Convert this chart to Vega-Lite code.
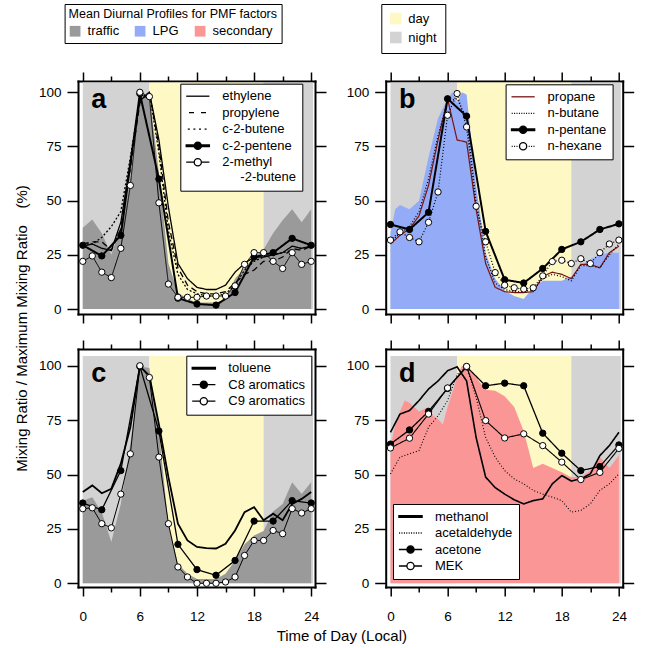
{
"$schema": "https://vega.github.io/schema/vega-lite/v6.json",
"padding": {"left": 13, "top": 3, "right": 5, "bottom": 3},
"config": {
  "font": "Liberation Sans",
  "view": {"stroke": null},
  "axis": {"domainColor": "black", "domainWidth": 2, "domainCap": "square", "tickColor": "black", "tickWidth": 1.5, "labelColor": "black", "labelFont": "Liberation Sans", "grid": false, "titleColor": "black", "titleFont": "Liberation Sans", "titleFontWeight": "normal"},
  "legend": {"labelFont": "Liberation Sans", "labelColor": "black", "titleFont": "Liberation Sans", "titleColor": "black", "titleFontWeight": "normal"},
  "text": {"font": "Liberation Sans"}
},
"datasets": {
  "bands": [{"start": 0, "end": 7, "period": "night"}, {"start": 7, "end": 19, "period": "day"}, {"start": 19, "end": 24.2, "period": "night"}],
  "factors": [{"factor": "traffic"}, {"factor": "LPG"}, {"factor": "secondary"}],
  "pa": [
    {"hour": 0, "traffic": 37.5, "ethylene": 29, "propylene": 30, "c-2-butene": 30, "c-2-pentene": 29.4, "2-methyl-2-butene": 22},
    {"hour": 1, "traffic": 41.3, "ethylene": 30, "propylene": 31, "c-2-butene": 30, "2-methyl-2-butene": 24.5},
    {"hour": 2, "traffic": 35, "ethylene": 28, "propylene": 31, "c-2-butene": 33, "c-2-pentene": 24.5, "2-methyl-2-butene": 17},
    {"hour": 3, "traffic": 25, "ethylene": 27, "propylene": 27, "c-2-butene": 38, "2-methyl-2-butene": 14.5},
    {"hour": 4, "traffic": 38, "ethylene": 40, "propylene": 37, "c-2-butene": 45, "c-2-pentene": 34, "2-methyl-2-butene": 28},
    {"hour": 5, "traffic": 60, "ethylene": 68, "propylene": 65, "c-2-butene": 70, "2-methyl-2-butene": 57},
    {"hour": 6, "traffic": 98.6, "ethylene": 96, "propylene": 95, "c-2-butene": 97, "c-2-pentene": 99.4, "2-methyl-2-butene": 100},
    {"hour": 7, "traffic": 99, "ethylene": 100, "propylene": 100, "c-2-butene": 100, "2-methyl-2-butene": 98},
    {"hour": 8, "traffic": 63, "ethylene": 78, "propylene": 75, "c-2-butene": 72, "c-2-pentene": 60, "2-methyl-2-butene": 49},
    {"hour": 9, "traffic": 21, "ethylene": 47, "propylene": 40, "c-2-butene": 36, "2-methyl-2-butene": 11.5},
    {"hour": 10, "traffic": 7.6, "ethylene": 21, "propylene": 19, "c-2-butene": 16, "c-2-pentene": 5, "2-methyl-2-butene": 5.4},
    {"hour": 11, "traffic": 4.6, "ethylene": 14, "propylene": 11, "c-2-butene": 9, "2-methyl-2-butene": 5.4},
    {"hour": 12, "traffic": 3, "ethylene": 10, "propylene": 8, "c-2-butene": 7, "c-2-pentene": 2.3, "2-methyl-2-butene": 5.4},
    {"hour": 13, "traffic": 3, "ethylene": 9, "propylene": 7, "c-2-butene": 6, "2-methyl-2-butene": 6},
    {"hour": 14, "traffic": 3, "ethylene": 9, "propylene": 7, "c-2-butene": 6, "c-2-pentene": 1.8, "2-methyl-2-butene": 6},
    {"hour": 15, "traffic": 4.6, "ethylene": 11, "propylene": 8, "c-2-butene": 7, "2-methyl-2-butene": 6},
    {"hour": 16, "traffic": 14, "ethylene": 17, "propylene": 12, "c-2-butene": 11, "c-2-pentene": 7.6, "2-methyl-2-butene": 10.7},
    {"hour": 17, "traffic": 19, "ethylene": 21, "propylene": 16, "c-2-butene": 18, "2-methyl-2-butene": 20.6},
    {"hour": 18, "traffic": 24, "ethylene": 24, "propylene": 18, "c-2-butene": 22, "c-2-pentene": 24, "2-methyl-2-butene": 26},
    {"hour": 19, "traffic": 27.5, "ethylene": 24, "propylene": 22, "c-2-butene": 24, "2-methyl-2-butene": 26},
    {"hour": 20, "traffic": 35, "ethylene": 25, "propylene": 22, "c-2-butene": 25, "c-2-pentene": 26, "2-methyl-2-butene": 22},
    {"hour": 21, "traffic": 41, "ethylene": 26, "propylene": 24, "c-2-butene": 26, "2-methyl-2-butene": 18.7},
    {"hour": 22, "traffic": 46, "ethylene": 29, "propylene": 28, "c-2-butene": 27, "c-2-pentene": 32.6, "2-methyl-2-butene": 26},
    {"hour": 23, "traffic": 40, "ethylene": 28, "propylene": 27, "c-2-butene": 28, "2-methyl-2-butene": 20.6},
    {"hour": 24, "traffic": 46, "ethylene": 29, "propylene": 29, "c-2-butene": 29, "c-2-pentene": 29.4, "2-methyl-2-butene": 22}
  ],
  "pb": [
    {"hour": 0, "LPG": 35, "propane": 30, "n-butane": 31, "n-pentane": 39, "n-hexane": 31.8},
    {"hour": 0.5, "LPG": 46},
    {"hour": 1, "LPG": 48, "propane": 34, "n-butane": 35, "n-hexane": 35.6},
    {"hour": 2, "LPG": 46, "propane": 37, "n-butane": 38, "n-pentane": 36.7, "n-hexane": 33},
    {"hour": 3, "LPG": 50, "propane": 43, "n-butane": 45, "n-hexane": 31},
    {"hour": 4, "LPG": 70, "propane": 57, "n-butane": 60, "n-pentane": 44.6, "n-hexane": 40},
    {"hour": 5, "LPG": 88, "propane": 78, "n-butane": 80, "n-hexane": 54},
    {"hour": 6, "LPG": 97, "propane": 97, "n-butane": 96, "n-pentane": 97, "n-hexane": 89.4},
    {"hour": 6.5, "LPG": 100},
    {"hour": 7, "LPG": 95, "propane": 78, "n-butane": 97, "n-hexane": 99.4},
    {"hour": 7.5, "LPG": 100},
    {"hour": 8, "LPG": 99, "propane": 77, "n-butane": 88, "n-pentane": 89, "n-hexane": 84},
    {"hour": 9, "LPG": 57, "propane": 46, "n-butane": 50, "n-hexane": 47.4},
    {"hour": 10, "LPG": 26, "propane": 21, "n-butane": 24, "n-pentane": 35.8, "n-hexane": 31},
    {"hour": 11, "LPG": 14, "propane": 10, "n-butane": 12, "n-hexane": 16.8},
    {"hour": 12, "LPG": 8.4, "propane": 8, "n-butane": 9, "n-pentane": 13.5, "n-hexane": 11},
    {"hour": 13, "LPG": 6, "propane": 7.6, "n-butane": 8, "n-hexane": 9.8},
    {"hour": 14, "LPG": 4.6, "propane": 7.6, "n-butane": 8, "n-pentane": 12, "n-hexane": 9.2},
    {"hour": 15, "LPG": 10, "propane": 8, "n-butane": 9, "n-hexane": 9.8},
    {"hour": 16, "LPG": 13, "propane": 15, "n-butane": 14, "n-pentane": 18.7, "n-hexane": 15.3},
    {"hour": 17, "LPG": 13, "propane": 17, "n-butane": 16, "n-hexane": 21.9},
    {"hour": 18, "LPG": 13, "propane": 16, "n-butane": 15, "n-pentane": 27.5, "n-hexane": 22.5},
    {"hour": 19, "LPG": 15, "propane": 14, "n-butane": 13, "n-hexane": 21},
    {"hour": 20, "LPG": 20, "propane": 20.6, "n-butane": 20, "n-pentane": 31, "n-hexane": 23.2},
    {"hour": 21, "LPG": 23, "propane": 20.6, "n-butane": 20, "n-hexane": 21},
    {"hour": 22, "LPG": 25, "propane": 19, "n-butane": 19, "n-pentane": 36.7, "n-hexane": 26},
    {"hour": 23, "LPG": 26, "propane": 26, "n-butane": 25, "n-hexane": 30},
    {"hour": 24, "LPG": 26, "propane": 29, "n-butane": 30, "n-pentane": 39.3, "n-hexane": 31.8}
  ],
  "pc": [
    {"hour": 0, "traffic": 38, "toluene": 42, "C8 aromatics": 36.9, "C9 aromatics": 34.3},
    {"hour": 1, "traffic": 39.6, "toluene": 45, "C9 aromatics": 34.7},
    {"hour": 2, "traffic": 32.7, "toluene": 41.4, "C8 aromatics": 33.8, "C9 aromatics": 27.4},
    {"hour": 3, "traffic": 19, "toluene": 43.4, "C9 aromatics": 25.5},
    {"hour": 4, "traffic": 36.5, "toluene": 55, "C8 aromatics": 51.8, "C9 aromatics": 41},
    {"hour": 5, "traffic": 64, "toluene": 71.7, "C9 aromatics": 59.5},
    {"hour": 6, "traffic": 99.7, "toluene": 99.7, "C8 aromatics": 99.7, "C9 aromatics": 100},
    {"hour": 7, "traffic": 99, "toluene": 95.4, "C9 aromatics": 94.6},
    {"hour": 8, "traffic": 70, "toluene": 73, "C8 aromatics": 70, "C9 aromatics": 58},
    {"hour": 9, "traffic": 27, "toluene": 48.8, "C9 aromatics": 27.4},
    {"hour": 10, "traffic": 9, "toluene": 27.4, "C8 aromatics": 17.9, "C9 aromatics": 7.5},
    {"hour": 11, "traffic": 4.4, "toluene": 19.7, "C9 aromatics": 2.9},
    {"hour": 12, "traffic": 2, "toluene": 16.7, "C8 aromatics": 6.3, "C9 aromatics": 0},
    {"hour": 13, "traffic": 2, "toluene": 16.2, "C9 aromatics": 0},
    {"hour": 14, "traffic": 2, "toluene": 16, "C8 aromatics": 3.7, "C9 aromatics": 0},
    {"hour": 15, "traffic": 4.4, "toluene": 18.2, "C9 aromatics": 0.6},
    {"hour": 16, "traffic": 10.5, "toluene": 24.3, "C8 aromatics": 10.5, "C9 aromatics": 2.9},
    {"hour": 17, "traffic": 18, "toluene": 32.7, "C9 aromatics": 12.8},
    {"hour": 18, "traffic": 22, "toluene": 35, "C8 aromatics": 28.6, "C9 aromatics": 19.7},
    {"hour": 19, "traffic": 24, "toluene": 29, "C9 aromatics": 19.7},
    {"hour": 20, "traffic": 33, "toluene": 32, "C8 aromatics": 28.6, "C9 aromatics": 24.3},
    {"hour": 21, "traffic": 36.5, "toluene": 29, "C9 aromatics": 22.8},
    {"hour": 22, "traffic": 46.5, "toluene": 36.5, "C8 aromatics": 38, "C9 aromatics": 34.3},
    {"hour": 23, "traffic": 41, "toluene": 38.8, "C9 aromatics": 32.3},
    {"hour": 24, "traffic": 46.5, "toluene": 42, "C8 aromatics": 36.9, "C9 aromatics": 34.3}
  ],
  "pd": [
    {"hour": 0, "secondary": 62.5, "methanol": 69.4, "acetaldehyde": 50.3, "acetone": 64, "MEK": 62.2},
    {"hour": 0.5, "secondary": 73},
    {"hour": 1, "secondary": 79, "methanol": 77.8, "acetaldehyde": 58},
    {"hour": 1.5, "secondary": 84},
    {"hour": 2, "secondary": 83, "methanol": 79.4, "acetaldehyde": 59.5, "acetone": 70.5, "MEK": 66.7},
    {"hour": 3, "secondary": 79, "methanol": 84, "acetaldehyde": 61},
    {"hour": 4, "secondary": 81, "methanol": 89.3, "acetaldehyde": 71.7, "acetone": 79, "MEK": 77.8},
    {"hour": 4.5, "secondary": 77},
    {"hour": 5, "secondary": 75.5, "methanol": 93, "acetaldehyde": 77},
    {"hour": 5.5, "secondary": 73},
    {"hour": 6, "secondary": 81, "methanol": 97.7, "acetaldehyde": 84, "acetone": 89.6, "MEK": 89.8},
    {"hour": 7, "secondary": 94.6, "methanol": 99.5, "acetaldehyde": 96},
    {"hour": 7.5, "secondary": 100},
    {"hour": 8, "secondary": 99, "methanol": 93, "acetaldehyde": 99.5, "acetone": 99.5, "MEK": 99.7},
    {"hour": 9, "secondary": 94.6, "methanol": 67, "acetaldehyde": 85.5},
    {"hour": 10, "secondary": 89, "methanol": 48.8, "acetaldehyde": 67, "acetone": 90.8, "MEK": 74.8},
    {"hour": 11, "secondary": 88.5, "methanol": 44, "acetaldehyde": 58},
    {"hour": 12, "secondary": 86, "methanol": 41, "acetaldehyde": 51.8, "acetone": 92, "MEK": 66.8},
    {"hour": 13, "secondary": 81, "methanol": 38.4, "acetaldehyde": 48},
    {"hour": 14, "secondary": 70, "methanol": 36.5, "acetaldehyde": 45.7, "acetone": 90.8, "MEK": 68.7},
    {"hour": 15, "secondary": 53, "methanol": 38, "acetaldehyde": 42.7},
    {"hour": 16, "secondary": 55, "methanol": 38.8, "acetaldehyde": 41, "acetone": 69, "MEK": 63.3},
    {"hour": 17, "secondary": 53, "methanol": 45.7, "acetaldehyde": 39.6},
    {"hour": 18, "secondary": 51, "methanol": 49.5, "acetaldehyde": 38, "acetone": 59.8, "MEK": 55.7},
    {"hour": 19, "secondary": 48.8, "methanol": 47, "acetaldehyde": 32.7},
    {"hour": 20, "secondary": 48.8, "methanol": 48, "acetaldehyde": 33.5, "acetone": 51.8, "MEK": 47.7},
    {"hour": 21, "secondary": 51.8, "methanol": 50.3, "acetaldehyde": 36.5},
    {"hour": 22, "secondary": 58, "methanol": 58.7, "acetaldehyde": 42.7, "acetone": 53.7, "MEK": 51},
    {"hour": 23, "secondary": 53, "methanol": 63.3, "acetaldehyde": 45.7},
    {"hour": 24, "secondary": 58.7, "methanol": 69.4, "acetaldehyde": 50.3, "acetone": 63.6, "MEK": 62}
  ]
},
"columns": 2,
"spacing": {"row": 35, "column": 70.7},
"bounds": "flush",
"resolve": {"scale": {"x": "independent", "y": "independent", "color": "independent", "fill": "independent", "shape": "independent", "stroke": "independent"}},
"concat": [
{
  "width": 237, "height": 233,
  "resolve": {"axis": {"x": "independent", "y": "independent"}},
  "layer": [
    {"data": {"name": "bands"}, "mark": {"type": "rect"},
     "encoding": {
       "x": {"field": "start", "type": "quantitative", "scale": {"domain": [-0.5, 24.4], "nice": false, "zero": false},
             "axis": {"orient": "bottom", "values": [0,3,6,9,12,15,18,21,24], "labels": false, "tickSize": {"condition": {"test": "datum.value % 6 === 0", "value": 9}, "value": 5}, "title": null}},
       "x2": {"field": "end"},
       "y": {"datum": 0, "type": "quantitative", "scale": {"domain": [-2.3, 105.2], "nice": false, "zero": false},
             "axis": {"orient": "left", "values": [0,25,50,75,100], "tickSize": 11, "labelPadding": 6, "labelFontSize": 13.5,
                      "title": "Mixing Ratio / Maximum Mixing Ratio\u00a0\u00a0\u00a0\u00a0(%)", "titleFontSize": 15, "titleX": -57, "titleY": 247, "titleAngle": 270, "titleAlign": "center", "titleBaseline": "middle"}},
       "y2": {"datum": 104.5},
       "fill": {"condition": {"test": "datum.period == 'day'", "value": "#fdf8c4"}, "value": "#d3d3d3"}
     }},
    {"data": {"name": "pa"}, "mark": {"type": "area", "color": "#9a9a9a"},
     "encoding": {
       "x": {"field": "hour", "type": "quantitative", "axis": {"orient": "top", "values": [0,3,6,9,12,15,18,21,24], "labels": false, "tickSize": {"condition": {"test": "datum.value % 6 === 0", "value": 9}, "value": 5}, "title": null}},
       "y": {"field": "traffic", "type": "quantitative", "axis": {"orient": "right", "values": [0,25,50,75,100], "tickSize": 11, "labels": false, "title": null}},
       "y2": {"datum": 0}
     }},
    {"data": {"name": "factors"}, "mark": {"type": "square", "opacity": 0, "size": 1},
     "encoding": {
       "fill": {"field": "factor", "type": "nominal", "scale": {"domain": ["traffic", "LPG", "secondary"], "range": ["#9a9a9a", "#94acf7", "#fa9696"]},
                "legend": {"orient": "none", "legendX": -13.4, "legendY": -77, "title": "Mean Diurnal Profiles for PMF factors", "titleFontSize": 12.5, "titleLimit": 400, "titlePadding": 4, "direction": "horizontal", "symbolType": "square", "symbolSize": 115, "symbolStrokeWidth": 0, "symbolOpacity": 1, "labelFontSize": 13, "labelOffset": 6, "columnPadding": 14, "padding": 4, "strokeColor": "black", "fillColor": "white"}}
     }},
    {"data": {"name": "pa"},
     "transform": [{"fold": ["ethylene", "propylene", "c-2-butene", "c-2-pentene", "2-methyl-2-butene"], "as": ["species", "value"]}, {"filter": "isValid(datum.value)"}],
     "mark": {"type": "line", "color": "black"},
     "encoding": {
       "x": {"field": "hour", "type": "quantitative", "axis": null},
       "y": {"field": "value", "type": "quantitative", "axis": null},
       "detail": {"field": "species"},
       "strokeDash": {"condition": [{"test": "datum.species == 'propylene'", "value": [6,4]}, {"test": "datum.species == 'c-2-butene'", "value": [2,2]}], "value": [1,0]},
       "strokeWidth": {"condition": [{"test": "datum.species == 'c-2-pentene'", "value": 2}, {"test": "datum.species == '2-methyl-2-butene'", "value": 1}], "value": 1.3}
     }},
    {"data": {"name": "pa"},
     "transform": [{"fold": ["c-2-pentene", "2-methyl-2-butene"], "as": ["species", "value"]}, {"filter": "isValid(datum.value)"}],
     "mark": {"type": "circle", "size": 40, "stroke": "black", "strokeWidth": 1, "opacity": 1},
     "encoding": {
       "x": {"field": "hour", "type": "quantitative", "axis": null},
       "y": {"field": "value", "type": "quantitative", "axis": null},
       "fill": {"condition": {"test": "datum.species == 'c-2-pentene'", "value": "black"}, "value": "white"}
     }},
    {"data": {"name": "pa"},
     "transform": [{"fold": ["ethylene", "propylene", "c-2-butene", "c-2-pentene", "2-methyl-2-butene"], "as": ["species", "value"]}, {"filter": "isValid(datum.value)"}],
     "mark": {"type": "point", "opacity": 0, "filled": true},
     "encoding": {
       "x": {"field": "hour", "type": "quantitative", "axis": null},
       "y": {"field": "value", "type": "quantitative", "axis": null},
       "color": {"field": "species", "type": "nominal",
         "scale": {"domain": ["ethylene", "propylene", "c-2-butene", "c-2-pentene", "2-methyl-2-butene"], "range": ["white", "white", "white", "black", "white"]},
         "legend": {"orient": "none", "legendX": 102.3, "legendY": 2.7, "title": null, "padding": 6, "strokeColor": "black", "fillColor": "white",
                    "symbolSize": 64, "symbolStrokeWidth": 1.3, "symbolOpacity": 1, "symbolOffset": 5,
                    "labelOffset": 18, "labelFontSize": 13, "labelLimit": 300, "rowPadding": 2.5}},
       "stroke": {"field": "species", "type": "nominal",
         "scale": {"domain": ["ethylene", "propylene", "c-2-butene", "c-2-pentene", "2-methyl-2-butene"], "range": ["black", "black", "black", "black", "black"]},
         "legend": {"orient": "none", "legendX": 102.3, "legendY": 2.7, "title": null, "padding": 6, "strokeColor": "black", "fillColor": "white",
                    "symbolSize": 64, "symbolStrokeWidth": 1.3, "symbolOpacity": 1, "symbolOffset": 5,
                    "labelOffset": 18, "labelFontSize": 13, "labelLimit": 300, "rowPadding": 2.5}},
       "shape": {"field": "species", "type": "nominal",
         "scale": {"domain": ["ethylene", "propylene", "c-2-butene", "c-2-pentene", "2-methyl-2-butene"],
                   "range": ["M-2.9,0H2.9", "M-2.2,0H-0.95M0.8,0H2.05", "M-2.5,0H-2M-1.1,0H-0.6M0.3,0H0.8M1.7,0H2.2", "M-2.9,-0.2H2.9V0.2H-2.9ZM0.9,0A0.9,0.9,0,1,1,-0.9,0A0.9,0.9,0,1,1,0.9,0Z", "M-2.9,0H-0.9M0.9,0H2.9M0.9,0A0.9,0.9,0,1,1,-0.9,0A0.9,0.9,0,1,1,0.9,0Z"]},
         "legend": {"orient": "none", "legendX": 102.3, "legendY": 2.7, "title": null, "padding": 6, "strokeColor": "black", "fillColor": "white",
                    "symbolSize": 64, "symbolStrokeWidth": 1.3, "symbolOpacity": 1, "symbolOffset": 5,
                    "labelOffset": 18, "labelFontSize": 13, "labelLimit": 300, "rowPadding": 2.5,
                    "labelExpr": "datum.label == '2-methyl-2-butene' ? ['2-methyl', '\u200b\u00a0\u00a0\u00a0\u00a0\u00a0-2-butene'] : datum.label"}}
     }},
    {"data": {"values": [{"panel": "a"}]},
     "mark": {"type": "text", "fontSize": 27, "fontWeight": "bold", "align": "left", "baseline": "alphabetic", "color": "black"},
     "encoding": {"x": {"datum": 0.9, "type": "quantitative", "axis": null}, "y": {"datum": 92.7, "type": "quantitative", "axis": null}, "text": {"field": "panel"}}}
  ]
},
{
  "width": 237, "height": 233,
  "resolve": {"axis": {"x": "independent", "y": "independent"}},
  "layer": [
    {"data": {"name": "bands"}, "mark": {"type": "rect"},
     "encoding": {
       "x": {"field": "start", "type": "quantitative", "scale": {"domain": [-0.5, 24.4], "nice": false, "zero": false},
             "axis": {"orient": "bottom", "values": [0,3,6,9,12,15,18,21,24], "labels": false, "tickSize": {"condition": {"test": "datum.value % 6 === 0", "value": 9}, "value": 5}, "title": null}},
       "x2": {"field": "end"},
       "y": {"datum": 0, "type": "quantitative", "scale": {"domain": [-2.3, 105.2], "nice": false, "zero": false},
             "axis": {"orient": "left", "values": [0,25,50,75,100], "tickSize": 11, "labelPadding": 6, "labelFontSize": 13.5, "title": null}},
       "y2": {"datum": 104.5},
       "fill": {"field": "period", "type": "nominal", "scale": {"domain": ["day", "night"], "range": ["#fdf8c4", "#d3d3d3"]},
                 "legend": {"orient": "none", "legendX": -4.4, "legendY": -77, "title": null, "direction": "vertical", "symbolType": "square", "symbolSize": 135, "symbolStrokeWidth": 0, "labelFontSize": 13, "labelOffset": 6, "rowPadding": 5, "padding": 8, "strokeColor": "black", "fillColor": "white"}}
     }},
    {"data": {"name": "pb"}, "mark": {"type": "area", "color": "#94acf7"},
     "encoding": {
       "x": {"field": "hour", "type": "quantitative", "axis": {"orient": "top", "values": [0,3,6,9,12,15,18,21,24], "labels": false, "tickSize": {"condition": {"test": "datum.value % 6 === 0", "value": 9}, "value": 5}, "title": null}},
       "y": {"field": "LPG", "type": "quantitative", "axis": {"orient": "right", "values": [0,25,50,75,100], "tickSize": 11, "labels": false, "title": null}},
       "y2": {"datum": 0}
     }},
    {"data": {"name": "pb"},
     "transform": [{"fold": ["propane", "n-butane", "n-pentane", "n-hexane"], "as": ["species", "value"]}, {"filter": "isValid(datum.value)"}],
     "mark": {"type": "line"},
     "encoding": {
       "x": {"field": "hour", "type": "quantitative", "axis": null},
       "y": {"field": "value", "type": "quantitative", "axis": null},
       "detail": {"field": "species"},
       "stroke": {"condition": {"test": "datum.species == 'propane'", "value": "#7a1414"}, "value": "black"},
       "strokeDash": {"condition": {"test": "datum.species == 'n-butane' || datum.species == 'n-hexane'", "value": [1,2]}, "value": [1,0]},
       "strokeWidth": {"condition": {"test": "datum.species == 'n-pentane'", "value": 2}, "value": 1.2}
     }},
    {"data": {"name": "pb"},
     "transform": [{"fold": ["n-pentane", "n-hexane"], "as": ["species", "value"]}, {"filter": "isValid(datum.value)"}],
     "mark": {"type": "circle", "size": 40, "stroke": "black", "strokeWidth": 1, "opacity": 1},
     "encoding": {
       "x": {"field": "hour", "type": "quantitative", "axis": null},
       "y": {"field": "value", "type": "quantitative", "axis": null},
       "fill": {"condition": {"test": "datum.species == 'n-pentane'", "value": "black"}, "value": "white"}
     }},
    {"data": {"name": "pb"},
     "transform": [{"fold": ["propane", "n-butane", "n-pentane", "n-hexane"], "as": ["species", "value"]}, {"filter": "isValid(datum.value)"}],
     "mark": {"type": "point", "opacity": 0, "filled": true},
     "encoding": {
       "x": {"field": "hour", "type": "quantitative", "axis": null},
       "y": {"field": "value", "type": "quantitative", "axis": null},
       "color": {"field": "species", "type": "nominal",
         "scale": {"domain": ["propane", "n-butane", "n-pentane", "n-hexane"], "range": ["white", "white", "black", "white"]},
         "legend": {"orient": "none", "legendX": 119.9, "legendY": 3.3, "title": null, "padding": 6, "strokeColor": "black", "fillColor": "white",
                    "symbolSize": 64, "symbolStrokeWidth": 1.3, "symbolOpacity": 1, "symbolOffset": 5,
                    "labelOffset": 18, "labelFontSize": 13, "labelLimit": 300, "rowPadding": 2.5}},
       "stroke": {"field": "species", "type": "nominal",
         "scale": {"domain": ["propane", "n-butane", "n-pentane", "n-hexane"], "range": ["#7a1414", "black", "black", "black"]},
         "legend": {"orient": "none", "legendX": 119.9, "legendY": 3.3, "title": null, "padding": 6, "strokeColor": "black", "fillColor": "white",
                    "symbolSize": 64, "symbolStrokeWidth": 1.3, "symbolOpacity": 1, "symbolOffset": 5,
                    "labelOffset": 18, "labelFontSize": 13, "labelLimit": 300, "rowPadding": 2.5}},
       "shape": {"field": "species", "type": "nominal",
         "scale": {"domain": ["propane", "n-butane", "n-pentane", "n-hexane"],
                   "range": ["M-2.9,0H2.9", "M-2.85,0H-2.6M-2.25,0H-2M-1.65,0H-1.4M-1.05,0H-0.8M-0.45,0H-0.2M0.15,0H0.4M0.75,0H1M1.35,0H1.6M1.95,0H2.2M2.55,0H2.8", "M-2.9,-0.2H2.9V0.2H-2.9ZM0.9,0A0.9,0.9,0,1,1,-0.9,0A0.9,0.9,0,1,1,0.9,0Z", "M-2.85,0H-2.6M-2.25,0H-2M-1.65,0H-1.4M1.4,0H1.65M2,0H2.25M2.6,0H2.85M0.9,0A0.9,0.9,0,1,1,-0.9,0A0.9,0.9,0,1,1,0.9,0Z"]},
         "legend": {"orient": "none", "legendX": 119.9, "legendY": 3.3, "title": null, "padding": 6, "strokeColor": "black", "fillColor": "white",
                    "symbolSize": 64, "symbolStrokeWidth": 1.3, "symbolOpacity": 1, "symbolOffset": 5,
                    "labelOffset": 18, "labelFontSize": 13, "labelLimit": 300, "rowPadding": 2.5}}
     }},
    {"data": {"values": [{"panel": "b"}]},
     "mark": {"type": "text", "fontSize": 27, "fontWeight": "bold", "align": "left", "baseline": "alphabetic", "color": "black"},
     "encoding": {"x": {"datum": 0.9, "type": "quantitative", "axis": null}, "y": {"datum": 92.7, "type": "quantitative", "axis": null}, "text": {"field": "panel"}}}
  ]
},
{
  "width": 237, "height": 238,
  "resolve": {"axis": {"x": "independent", "y": "independent"}},
  "layer": [
    {"data": {"name": "bands"}, "mark": {"type": "rect"},
     "encoding": {
       "x": {"field": "start", "type": "quantitative", "scale": {"domain": [-0.5, 24.4], "nice": false, "zero": false},
             "axis": {"orient": "bottom", "values": [0,3,6,9,12,15,18,21,24], "labelExpr": "datum.value % 6 === 0 ? datum.label : ''", "labelFontSize": 13.5, "labelPadding": 13, "tickSize": {"condition": {"test": "datum.value % 6 === 0", "value": 9}, "value": 5},
                      "title": "Time of Day (Local)", "titleFontSize": 15, "titleX": 263.3, "titleY": 48.8, "titleAlign": "center", "titleBaseline": "middle"}},
       "x2": {"field": "end"},
       "y": {"datum": 0, "type": "quantitative", "scale": {"domain": [-1.7, 107.7], "nice": false, "zero": false},
             "axis": {"orient": "left", "values": [0,25,50,75,100], "tickSize": 11, "labelPadding": 6, "labelFontSize": 13.5, "title": null}},
       "y2": {"datum": 104.5},
       "fill": {"condition": {"test": "datum.period == 'day'", "value": "#fdf8c4"}, "value": "#d3d3d3"}
     }},
    {"data": {"name": "pc"}, "mark": {"type": "area", "color": "#9a9a9a"},
     "encoding": {
       "x": {"field": "hour", "type": "quantitative", "axis": {"orient": "top", "values": [0,3,6,9,12,15,18,21,24], "labels": false, "tickSize": {"condition": {"test": "datum.value % 6 === 0", "value": 9}, "value": 5}, "title": null}},
       "y": {"field": "traffic", "type": "quantitative", "axis": {"orient": "right", "values": [0,25,50,75,100], "tickSize": 11, "labels": false, "title": null}},
       "y2": {"datum": 0}
     }},
    {"data": {"name": "pc"},
     "transform": [{"fold": ["toluene", "C8 aromatics", "C9 aromatics"], "as": ["species", "value"]}, {"filter": "isValid(datum.value)"}],
     "mark": {"type": "line", "color": "black"},
     "encoding": {
       "x": {"field": "hour", "type": "quantitative", "axis": null},
       "y": {"field": "value", "type": "quantitative", "axis": null},
       "detail": {"field": "species"},
       "strokeWidth": {"condition": [{"test": "datum.species == 'toluene'", "value": 1.8}, {"test": "datum.species == 'C8 aromatics'", "value": 1.3}], "value": 1}
     }},
    {"data": {"name": "pc"},
     "transform": [{"fold": ["C8 aromatics", "C9 aromatics"], "as": ["species", "value"]}, {"filter": "isValid(datum.value)"}],
     "mark": {"type": "circle", "size": 40, "stroke": "black", "strokeWidth": 1, "opacity": 1},
     "encoding": {
       "x": {"field": "hour", "type": "quantitative", "axis": null},
       "y": {"field": "value", "type": "quantitative", "axis": null},
       "fill": {"condition": {"test": "datum.species == 'C8 aromatics'", "value": "black"}, "value": "white"}
     }},
    {"data": {"name": "pc"},
     "transform": [{"fold": ["toluene", "C8 aromatics", "C9 aromatics"], "as": ["species", "value"]}, {"filter": "isValid(datum.value)"}],
     "mark": {"type": "point", "opacity": 0, "filled": true},
     "encoding": {
       "x": {"field": "hour", "type": "quantitative", "axis": null},
       "y": {"field": "value", "type": "quantitative", "axis": null},
       "color": {"field": "species", "type": "nominal",
         "scale": {"domain": ["toluene", "C8 aromatics", "C9 aromatics"], "range": ["black", "black", "white"]},
         "legend": {"orient": "none", "legendX": 108.3, "legendY": 6.7, "title": null, "padding": 6, "strokeColor": "black", "fillColor": "white",
                    "symbolSize": 64, "symbolStrokeWidth": 1.3, "symbolOpacity": 1, "symbolOffset": 5,
                    "labelOffset": 18, "labelFontSize": 13, "labelLimit": 300, "rowPadding": 2.5}},
       "stroke": {"field": "species", "type": "nominal",
         "scale": {"domain": ["toluene", "C8 aromatics", "C9 aromatics"], "range": ["black", "black", "black"]},
         "legend": {"orient": "none", "legendX": 108.3, "legendY": 6.7, "title": null, "padding": 6, "strokeColor": "black", "fillColor": "white",
                    "symbolSize": 64, "symbolStrokeWidth": 1.3, "symbolOpacity": 1, "symbolOffset": 5,
                    "labelOffset": 18, "labelFontSize": 13, "labelLimit": 300, "rowPadding": 2.5}},
       "shape": {"field": "species", "type": "nominal",
         "scale": {"domain": ["toluene", "C8 aromatics", "C9 aromatics"],
                   "range": ["M-2.9,-0.2H2.9V0.2H-2.9Z", "M-2.9,0H2.9M0.9,0A0.9,0.9,0,1,1,-0.9,0A0.9,0.9,0,1,1,0.9,0Z", "M-2.9,0H-0.9M0.9,0H2.9M0.9,0A0.9,0.9,0,1,1,-0.9,0A0.9,0.9,0,1,1,0.9,0Z"]},
         "legend": {"orient": "none", "legendX": 108.3, "legendY": 6.7, "title": null, "padding": 6, "strokeColor": "black", "fillColor": "white",
                    "symbolSize": 64, "symbolStrokeWidth": 1.3, "symbolOpacity": 1, "symbolOffset": 5,
                    "labelOffset": 18, "labelFontSize": 13, "labelLimit": 300, "rowPadding": 2.5}}
     }},
    {"data": {"values": [{"panel": "c"}]},
     "mark": {"type": "text", "fontSize": 27, "fontWeight": "bold", "align": "left", "baseline": "alphabetic", "color": "black"},
     "encoding": {"x": {"datum": 0.9, "type": "quantitative", "axis": null}, "y": {"datum": 92.7, "type": "quantitative", "axis": null}, "text": {"field": "panel"}}}
  ]
},
{
  "width": 237, "height": 238,
  "resolve": {"axis": {"x": "independent", "y": "independent"}},
  "layer": [
    {"data": {"name": "bands"}, "mark": {"type": "rect"},
     "encoding": {
       "x": {"field": "start", "type": "quantitative", "scale": {"domain": [-0.5, 24.4], "nice": false, "zero": false},
             "axis": {"orient": "bottom", "values": [0,3,6,9,12,15,18,21,24], "labelExpr": "datum.value % 6 === 0 ? datum.label : ''", "labelFontSize": 13.5, "labelPadding": 13, "tickSize": {"condition": {"test": "datum.value % 6 === 0", "value": 9}, "value": 5}, "title": null}},
       "x2": {"field": "end"},
       "y": {"datum": 0, "type": "quantitative", "scale": {"domain": [-1.7, 107.7], "nice": false, "zero": false},
             "axis": {"orient": "left", "values": [0,25,50,75,100], "tickSize": 11, "labelPadding": 6, "labelFontSize": 13.5, "title": null}},
       "y2": {"datum": 104.5},
       "fill": {"condition": {"test": "datum.period == 'day'", "value": "#fdf8c4"}, "value": "#d3d3d3"}
     }},
    {"data": {"name": "pd"}, "mark": {"type": "area", "color": "#fa9696"},
     "encoding": {
       "x": {"field": "hour", "type": "quantitative", "axis": {"orient": "top", "values": [0,3,6,9,12,15,18,21,24], "labels": false, "tickSize": {"condition": {"test": "datum.value % 6 === 0", "value": 9}, "value": 5}, "title": null}},
       "y": {"field": "secondary", "type": "quantitative", "axis": {"orient": "right", "values": [0,25,50,75,100], "tickSize": 11, "labels": false, "title": null}},
       "y2": {"datum": 0}
     }},
    {"data": {"name": "pd"},
     "transform": [{"fold": ["methanol", "acetaldehyde", "acetone", "MEK"], "as": ["species", "value"]}, {"filter": "isValid(datum.value)"}],
     "mark": {"type": "line", "color": "black"},
     "encoding": {
       "x": {"field": "hour", "type": "quantitative", "axis": null},
       "y": {"field": "value", "type": "quantitative", "axis": null},
       "detail": {"field": "species"},
       "strokeDash": {"condition": {"test": "datum.species == 'acetaldehyde'", "value": [1,2]}, "value": [1,0]},
       "strokeWidth": {"condition": [{"test": "datum.species == 'methanol'", "value": 1.6}, {"test": "datum.species == 'acetone'", "value": 1.3}], "value": 1.1}
     }},
    {"data": {"name": "pd"},
     "transform": [{"fold": ["acetone", "MEK"], "as": ["species", "value"]}, {"filter": "isValid(datum.value)"}],
     "mark": {"type": "circle", "size": 40, "stroke": "black", "strokeWidth": 1, "opacity": 1},
     "encoding": {
       "x": {"field": "hour", "type": "quantitative", "axis": null},
       "y": {"field": "value", "type": "quantitative", "axis": null},
       "fill": {"condition": {"test": "datum.species == 'acetone'", "value": "black"}, "value": "white"}
     }},
    {"data": {"name": "pd"},
     "transform": [{"fold": ["methanol", "acetaldehyde", "acetone", "MEK"], "as": ["species", "value"]}, {"filter": "isValid(datum.value)"}],
     "mark": {"type": "point", "opacity": 0, "filled": true},
     "encoding": {
       "x": {"field": "hour", "type": "quantitative", "axis": null},
       "y": {"field": "value", "type": "quantitative", "axis": null},
       "color": {"field": "species", "type": "nominal",
         "scale": {"domain": ["methanol", "acetaldehyde", "acetone", "MEK"], "range": ["black", "white", "black", "white"]},
         "legend": {"orient": "none", "legendX": 7.3, "legendY": 155, "title": null, "padding": 6, "strokeColor": "black", "fillColor": "white",
                    "symbolSize": 64, "symbolStrokeWidth": 1.3, "symbolOpacity": 1, "symbolOffset": 5,
                    "labelOffset": 18, "labelFontSize": 13, "labelLimit": 300, "rowPadding": 2.5}},
       "stroke": {"field": "species", "type": "nominal",
         "scale": {"domain": ["methanol", "acetaldehyde", "acetone", "MEK"], "range": ["black", "black", "black", "black"]},
         "legend": {"orient": "none", "legendX": 7.3, "legendY": 155, "title": null, "padding": 6, "strokeColor": "black", "fillColor": "white",
                    "symbolSize": 64, "symbolStrokeWidth": 1.3, "symbolOpacity": 1, "symbolOffset": 5,
                    "labelOffset": 18, "labelFontSize": 13, "labelLimit": 300, "rowPadding": 2.5}},
       "shape": {"field": "species", "type": "nominal",
         "scale": {"domain": ["methanol", "acetaldehyde", "acetone", "MEK"],
                   "range": ["M-2.9,-0.2H2.9V0.2H-2.9Z", "M-2.85,0H-2.6M-2.25,0H-2M-1.65,0H-1.4M-1.05,0H-0.8M-0.45,0H-0.2M0.15,0H0.4M0.75,0H1M1.35,0H1.6M1.95,0H2.2M2.55,0H2.8", "M-2.9,0H2.9M0.9,0A0.9,0.9,0,1,1,-0.9,0A0.9,0.9,0,1,1,0.9,0Z", "M-2.9,0H-0.9M0.9,0H2.9M0.9,0A0.9,0.9,0,1,1,-0.9,0A0.9,0.9,0,1,1,0.9,0Z"]},
         "legend": {"orient": "none", "legendX": 7.3, "legendY": 155, "title": null, "padding": 6, "strokeColor": "black", "fillColor": "white",
                    "symbolSize": 64, "symbolStrokeWidth": 1.3, "symbolOpacity": 1, "symbolOffset": 5,
                    "labelOffset": 18, "labelFontSize": 13, "labelLimit": 300, "rowPadding": 2.5}}
     }},
    {"data": {"values": [{"panel": "d"}]},
     "mark": {"type": "text", "fontSize": 27, "fontWeight": "bold", "align": "left", "baseline": "alphabetic", "color": "black"},
     "encoding": {"x": {"datum": 0.9, "type": "quantitative", "axis": null}, "y": {"datum": 92.7, "type": "quantitative", "axis": null}, "text": {"field": "panel"}}}
  ]
}
]
}
